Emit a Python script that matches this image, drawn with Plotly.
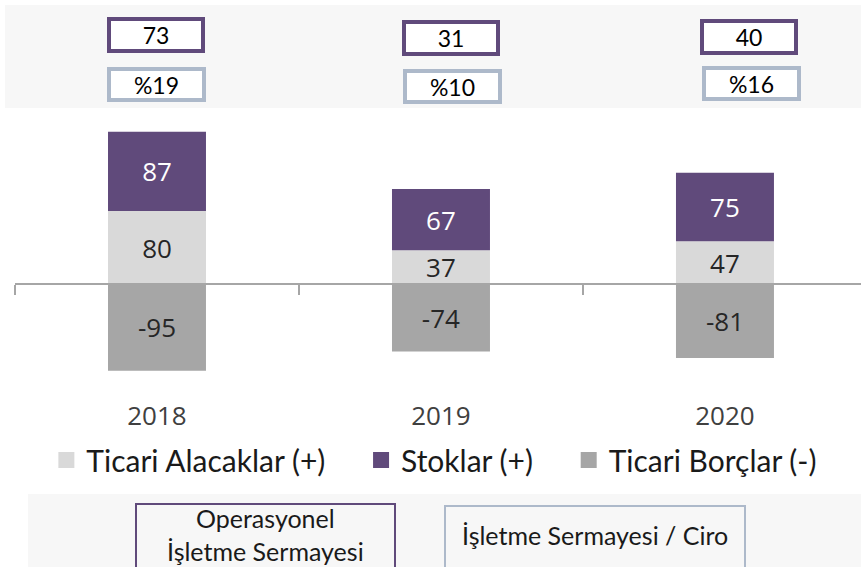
import plotly.graph_objects as go

years = ["2018", "2019", "2020"]
ticari_alacaklar = [80, 37, 47]
stoklar = [87, 67, 75]
ticari_borclar = [-95, -74, -81]
ois_values = ["73", "31", "40"]
ciro_ratios = ["%19", "%10", "%16"]
series_names = ["Ticari Alacaklar (+)", "Stoklar (+)", "Ticari Borçlar (-)"]
box_titles = ["Operasyonel<br>İşletme Sermayesi", "İşletme Sermayesi / Ciro"]

C_LIGHT = "#D9D9D9"
C_PURPLE = "#604A7B"
C_DARK = "#A6A6A6"
C_BLUE = "#ADB9CA"
W, H = 861, 567

def py(p):  # pixel row -> paper fraction
    return (H - p) / H

fig = go.Figure()
series = [(ticari_alacaklar, C_LIGHT, "#262626"),
          (stoklar, C_PURPLE, "#FFFFFF"),
          (ticari_borclar, C_DARK, "#262626")]
for (vals, col, tcol), name in zip(series, series_names):
    fig.add_trace(go.Bar(
        x=years, y=vals, name=name, marker=dict(color=col, line=dict(width=0)),
        text=[str(v) for v in vals], textposition="inside", insidetextanchor="middle",
        textangle=0, constraintext="none",
        textfont=dict(family="Open Sans", size=26, color=tcol),
        showlegend=False, width=0.345, xaxis="x", yaxis="y", hoverinfo="skip"))
# legend proxies (larger squares); trailing no-break spaces widen the item gaps
pad = "\u00a0" * 4
legend_labels = [series_names[0] + pad, series_names[1] + pad, series_names[2]]
for (vals, col, tcol), name in zip(series, legend_labels):
    fig.add_trace(go.Scatter(
        x=years, y=[None] * len(years), mode="markers", name=name,
        marker=dict(symbol="square", size=16, color=col),
        xaxis="x2", yaxis="y", showlegend=True))

x_dom = [15 / W, 1]
fig.update_layout(
    width=W, height=H, margin=dict(l=0, r=0, t=0, b=0),
    paper_bgcolor="white", plot_bgcolor="rgba(0,0,0,0)",
    barmode="relative",
    uniformtext=dict(minsize=26, mode="show"),
    xaxis=dict(domain=x_dom, type="category", categoryorder="array", categoryarray=years,
               range=[-0.5, 2.479], showline=False, ticks="", showgrid=False, zeroline=False,
               tickfont=dict(family="Open Sans", size=26, color="#404040")),
    xaxis2=dict(domain=x_dom, type="category", categoryorder="array", categoryarray=years,
                range=[-0.5, 2.479], overlaying="x", anchor="free", position=py(284),
                showline=True, linecolor="#A6A6A6", linewidth=1.5,
                ticks="outside", ticklen=10, tickcolor="#A6A6A6", tickwidth=1.5,
                tickson="boundaries", showticklabels=False, showgrid=False),
    yaxis=dict(domain=[py(398), py(110)], range=[-124.9, 190.7], visible=False,
               showgrid=False, zeroline=False),
    legend=dict(orientation="h", x=0.5045, xanchor="center", y=py(460), yanchor="middle",
                font=dict(family="Lato", size=30, color="#1A1A1A"),
                bgcolor="rgba(0,0,0,0)", itemclick=False, traceorder="normal"),
    showlegend=True,
)

shapes = [
    dict(type="rect", xref="paper", yref="paper", x0=5 / W, x1=1, y0=py(108), y1=py(5),
         fillcolor="#F7F7F7", line=dict(width=0), layer="below"),
    dict(type="rect", xref="paper", yref="paper", x0=28 / W, x1=1, y0=py(575), y1=py(494),
         fillcolor="#F7F7F7", line=dict(width=0), layer="below"),
    dict(type="rect", xref="paper", yref="paper", x0=136 / W, x1=395 / W, y0=py(575), y1=py(504),
         fillcolor="rgba(0,0,0,0)", line=dict(color=C_PURPLE, width=2)),
    dict(type="rect", xref="paper", yref="paper", x0=445 / W, x1=745 / W, y0=py(575), y1=py(506),
         fillcolor="rgba(0,0,0,0)", line=dict(color=C_BLUE, width=2)),
]
fig.update_layout(shapes=shapes)

box_xshift_a = [-1, 10, 24]
box_yshift_a = [0, -3, -1.5]
box_xshift_b = [0, 12, 27]
box_yshift_b = [0, -2.5, 1]
annotations = []
for i, yr in enumerate(years):
    # category positions given by index (numeric-looking names would be read as positions)
    annotations.append(dict(
        x=i, xref="x", y=py(35), yref="paper", text=ois_values[i], showarrow=False,
        xanchor="center", yanchor="middle",
        xshift=box_xshift_a[i], yshift=box_yshift_a[i],
        font=dict(family="Lato", size=23, color="#000000"),
        bgcolor="#FFFFFF", bordercolor=C_PURPLE, borderwidth=4, borderpad=0,
        width=90, height=28, align="center", valign="middle"))
    annotations.append(dict(
        x=i, xref="x", y=py(84.5), yref="paper", text=ciro_ratios[i], showarrow=False,
        xanchor="center", yanchor="middle",
        xshift=box_xshift_b[i], yshift=box_yshift_b[i],
        font=dict(family="Lato", size=23, color="#000000"),
        bgcolor="#FFFFFF", bordercolor=C_BLUE, borderwidth=4, borderpad=0,
        width=91, height=27, align="center", valign="middle"))
annotations.append(dict(x=265.5 / W, xref="paper", y=py(534), yref="paper", text=box_titles[0],
                        xanchor="center", yanchor="middle",
                        showarrow=False, font=dict(family="Lato", size=25, color="#1A1A1A"),
                        align="center"))
annotations.append(dict(x=595 / W, xref="paper", y=py(535), yref="paper", text=box_titles[1],
                        xanchor="center", yanchor="middle",
                        showarrow=False, font=dict(family="Lato", size=25, color="#1A1A1A"),
                        align="center"))
fig.update_layout(annotations=annotations)

fig.write_html("out.html", config={"displayModeBar": False},
               post_script="document.body.style.margin='0';document.body.style.overflow='hidden';")
